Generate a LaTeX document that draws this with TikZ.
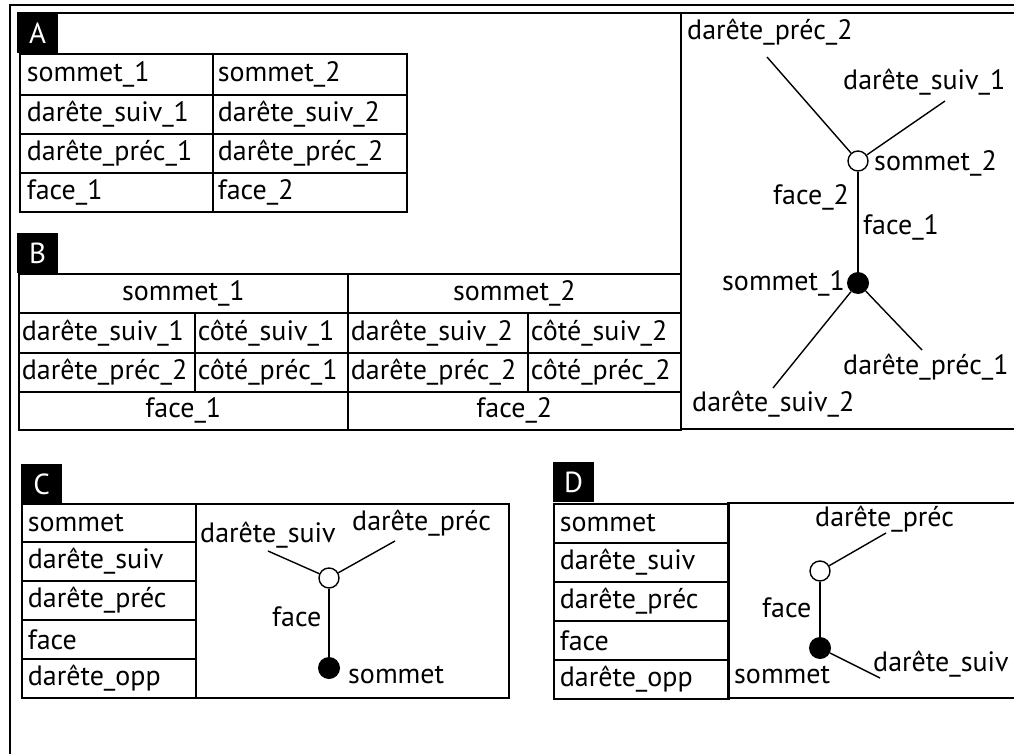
\documentclass[tikz,border=0pt]{standalone}
\usepackage{fontspec}
\setmainfont{PT Sans}
\begin{document}
\begin{tikzpicture}[x=1pt,y=-1pt,
  frame/.style={line width=2pt},
  rule/.style={line width=1.7pt},
  cellL/.style={draw, line width=1.7pt, anchor=north west, inner xsep=5pt, inner ysep=0pt,
    align=left, minimum height=#1},
  cellC/.style={draw, line width=1.7pt, anchor=north west, inner xsep=0pt, inner ysep=0pt,
    align=center, minimum height=#1},
  tag/.style={fill=black, text=white, anchor=north west, inner sep=0pt,
    minimum width=41pt, minimum height=40pt, font=\fontsize{29}{29}\selectfont},
  lbl/.style={inner sep=0pt},
  edge/.style={line width=1.4pt},
  vopen/.style={circle, draw, line width=1.4pt, fill=white, inner sep=0pt, minimum size=20pt},
  vfull/.style={circle, fill=black, inner sep=0pt, minimum size=22pt},
  every node/.style={font=\fontsize{28}{28}\selectfont}
]
\useasboundingbox (0,0) rectangle (1014,754);

% outer frame
\draw[frame] (9.5,754) -- (9.5,5) -- (1014,5);
\draw[frame] (17,13) -- (1014,13);
\draw[frame] (681,13) -- (681,428.5) -- (1014,428.5);

% ---------- A ----------
\node[tag] (tagA) at (17,13) {A};
\node[cellL=41pt, text width=179pt, inner xsep=7pt] (a11) at (19,53) {sommet\_1};
\node[cellL=41pt, text width=184pt] (a12) at (212,53) {sommet\_2};
\node[cellL=39pt, text width=179pt, inner xsep=7pt] (a21) at (19,94) {darête\_suiv\_1};
\node[cellL=39pt, text width=184pt] (a22) at (212,94) {darête\_suiv\_2};
\node[cellL=39pt, text width=179pt, inner xsep=7pt] (a31) at (19,133) {darête\_préc\_1};
\node[cellL=39pt, text width=184pt] (a32) at (212,133) {darête\_préc\_2};
\node[cellL=39pt, text width=179pt, inner xsep=7pt] (a41) at (19,172) {face\_1};
\node[cellL=39pt, text width=184pt] (a42) at (212,172) {face\_2};

% ---------- B ----------
\node[tag] (tagB) at (17,233) {B};
\node[cellC=39pt, text width=329pt] (b11) at (18,273) {sommet\_1};
\node[cellC=39pt, text width=333pt] (b12) at (347,273) {sommet\_2};
\node[cellL=40pt, text width=170pt, inner xsep=3pt] (b21) at (18,312) {darête\_suiv\_1};
\node[cellL=40pt, text width=147pt, inner xsep=3pt] (b22) at (194,312) {côté\_suiv\_1};
\node[cellL=40pt, text width=174pt, inner xsep=3pt] (b23) at (347,312) {darête\_suiv\_2};
\node[cellL=40pt, text width=147pt, inner xsep=3pt] (b24) at (527,312) {côté\_suiv\_2};
\node[cellL=39pt, text width=170pt, inner xsep=3pt] (b31) at (18,352) {darête\_préc\_2};
\node[cellL=39pt, text width=147pt, inner xsep=3pt] (b32) at (194,352) {côté\_préc\_1};
\node[cellL=39pt, text width=174pt, inner xsep=3pt] (b33) at (347,352) {darête\_préc\_2};
\node[cellL=39pt, text width=147pt, inner xsep=3pt] (b34) at (527,352) {côté\_préc\_2};
\node[cellC=38pt, text width=329pt] (b41) at (18,391) {face\_1};
\node[cellC=38pt, text width=333pt] (b42) at (347,391) {face\_2};

% ---------- top right: two vertices ----------
\node[vopen] (s2) at (858,161) {};
\node[vfull] (s1) at (858,283) {};
\coordinate (p2) at (767,57);
\coordinate (n1) at (945,101);
\coordinate (n2) at (773,388);
\coordinate (p1) at (922,350);
\draw[edge] (s2) -- (p2);
\draw[edge] (s2) -- (n1);
\draw[edge] (s2) -- (s1);
\draw[edge] (s1) -- (n2);
\draw[edge] (s1) -- (p1);
\node[lbl, anchor=west] (lp2) at (687,32) {darête\_préc\_2};
\node[lbl, anchor=west] (ln1) at (843,82) {darête\_suiv\_1};
\node[lbl, anchor=west] (ls2) at (874,163) {sommet\_2};
\node[lbl, anchor=west] (lf2) at (773,197) {face\_2};
\node[lbl, anchor=west] (lf1) at (863,227) {face\_1};
\node[lbl, anchor=west] (ls1) at (722,283) {sommet\_1};
\node[lbl, anchor=west] (lp1) at (843,367) {darête\_préc\_1};
\node[lbl, anchor=west] (ln2) at (692,404) {darête\_suiv\_2};

% ---------- C ----------
\node[tag] (tagC) at (21,464) {C};
\node[cellL=38pt, text width=162pt, inner xsep=6pt] (c1) at (21,503) {sommet};
\node[cellL=39pt, text width=162pt, inner xsep=6pt] (c2) at (21,541) {darête\_suiv};
\node[cellL=39pt, text width=162pt, inner xsep=6pt] (c3) at (21,580) {darête\_préc};
\node[cellL=39pt, text width=162pt, inner xsep=6pt] (c4) at (21,619) {face};
\node[cellL=39pt, text width=162pt, inner xsep=6pt] (c5) at (21,658) {darête\_opp};
\node[draw, line width=1.7pt, anchor=north west, inner sep=0pt,
      minimum width=313pt, minimum height=194pt] (cg) at (195,503) {};
\node[vopen] (cs2) at (329,578) {};
\node[vfull] (cs1) at (329,668) {};
\coordinate (cn) at (268,551);
\coordinate (cp) at (395,541);
\draw[edge] (cs2) -- (cn);
\draw[edge] (cs2) -- (cp);
\draw[edge] (cs2) -- (cs1);
\node[lbl, anchor=west] (lcn) at (200,535) {darête\_suiv};
\node[lbl, anchor=west] (lcp) at (352,523) {darête\_préc};
\node[lbl, anchor=west] (lcf) at (272,617) {face};
\node[lbl, anchor=west] (lcs) at (348,675) {sommet};

% ---------- D ----------
\node[tag] (tagD) at (553,462) {D};
\node[cellL=39pt, text width=163pt, inner xsep=6pt] (d1) at (553,503) {sommet};
\node[cellL=39pt, text width=163pt, inner xsep=6pt] (d2) at (553,542) {darête\_suiv};
\node[cellL=39pt, text width=163pt, inner xsep=6pt] (d3) at (553,581) {darête\_préc};
\node[cellL=39pt, text width=163pt, inner xsep=6pt] (d4) at (553,620) {face};
\node[cellL=39pt, text width=163pt, inner xsep=6pt] (d5) at (553,659) {darête\_opp};
\draw[rule] (1014,503) -- (728,503) -- (728,698) -- (1014,698);
\node[vopen] (ds2) at (820,571) {};
\node[vfull] (ds1) at (820,648) {};
\coordinate (dp) at (886,533);
\coordinate (dn) at (880,678);
\draw[edge] (ds2) -- (dp);
\draw[edge] (ds2) -- (ds1);
\draw[edge] (ds1) -- (dn);
\node[lbl, anchor=west] (ldp) at (815,519) {darête\_préc};
\node[lbl, anchor=west] (ldf) at (762,608) {face};
\node[lbl, anchor=west] (lds) at (734,675) {sommet};
\node[lbl, anchor=west] (ldn) at (873,664) {darête\_suiv};
\end{tikzpicture}
\end{document}
